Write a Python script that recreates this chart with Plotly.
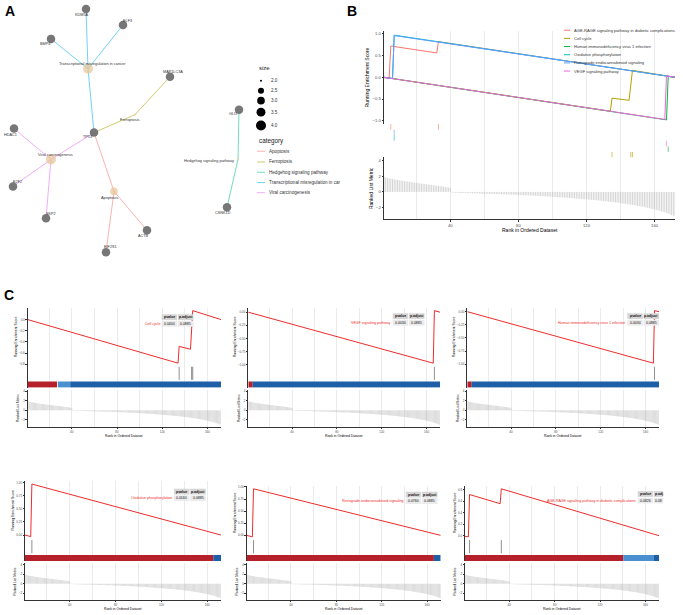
import math
import plotly.graph_objects as go

W, H = 683, 615
FONT = "Liberation Sans"
N_RANK = 172

# ---------------- panel A : gene-concept network ----------------
gene_names = ["KDM5A", "ELF3", "BMP4", "MAP1LC3A", "TP53", "HDAC1",
              "E2F2", "SKP2", "ACTB", "EIF2S1", "GLI1", "CSNK1D"]
gene_x = [86, 123, 51, 170, 94, 14, 13, 46, 147, 106, 239, 227]
gene_y = [8, 24, 38, 76, 132, 128, 186, 218, 230, 252, 109, 207]

cat_names = ["Apoptosis", "Ferroptosis", "Hedgehog signaling pathway",
             "Transcriptional misregulation in cancer", "Viral carcinogenesis"]
cat_legend_text = ["Apoptosis", "Ferroptosis", "Hedgehog signaling pathway",
                   "Transcriptional misregulation in car", "Viral carcinogenesis"]
cat_x = [114, 135, 238, 88, 51]
cat_y = [191, 114, 159, 68, 159]
cat_size = [3, 2, 2, 4, 4]
cat_genes = [["TP53", "ACTB", "EIF2S1"], ["MAP1LC3A", "TP53"], ["GLI1", "CSNK1D"],
             ["KDM5A", "ELF3", "BMP4", "TP53"], ["TP53", "HDAC1", "E2F2", "SKP2"]]
cat_colors = ["#F8766D", "#A3A500", "#00BF7D", "#00B0F6", "#E76BF3"]
size_legend = [2.0, 2.5, 3.0, 3.5, 4.0]

# ---------------- ranked list metric (shared) ----------------
metric = [
    1.92, 1.84, 1.78, 1.73, 1.68, 1.63, 1.59, 1.55, 1.51, 1.47,
    1.43, 1.40, 1.36, 1.33, 1.30, 1.27, 1.24, 1.21, 1.18, 1.15,
    1.12, 1.09, 1.06, 1.03, 1.00, 0.97, 0.94, 0.91, 0.88, 0.85,
    0.82, 0.79, 0.76, 0.73, 0.70, 0.67, 0.63, 0.59, 0.55, 0.51,
    -0.08, -0.09, -0.10, -0.11, -0.12, -0.12, -0.13, -0.14, -0.15, -0.15,
    -0.16, -0.17, -0.17, -0.18, -0.19, -0.19, -0.20, -0.21, -0.21, -0.22,
    -0.23, -0.23, -0.24, -0.25, -0.25, -0.26, -0.27, -0.28, -0.28, -0.29,
    -0.30, -0.31, -0.32, -0.32, -0.33, -0.34, -0.35, -0.36, -0.37, -0.38,
    -0.39, -0.40, -0.41, -0.42, -0.43, -0.44, -0.45, -0.46, -0.47, -0.48,
    -0.50, -0.51, -0.52, -0.53, -0.55, -0.56, -0.57, -0.59, -0.60, -0.61,
    -0.63, -0.64, -0.66, -0.67, -0.69, -0.70, -0.72, -0.73, -0.75, -0.76,
    -0.78, -0.80, -0.81, -0.83, -0.85, -0.87, -0.88, -0.90, -0.92, -0.94,
    -0.96, -0.98, -1.00, -1.02, -1.04, -1.06, -1.08, -1.10, -1.13, -1.15,
    -1.17, -1.20, -1.22, -1.25, -1.27, -1.30, -1.33, -1.35, -1.38, -1.41,
    -1.44, -1.47, -1.50, -1.53, -1.57, -1.60, -1.64, -1.67, -1.71, -1.75,
    -1.79, -1.83, -1.87, -1.91, -1.96, -2.00, -2.05, -2.10, -2.15, -2.20,
    -2.26, -2.32, -2.38, -2.44, -2.51, -2.58, -2.65, -2.73, -2.82, -2.91,
    -3.00, -3.10,
]

# ---------------- running enrichment scores (breakpoints) ----------------
AGE = "AGE-RAGE signaling pathway in diabetic complications"
CC = "Cell cycle"
HIV = "Human immunodeficiency virus 1 infection"
OXP = "Oxidative phosphorylation"
RET = "Retrograde endocannabinoid signaling"
VEGF = "VEGF signaling pathway"

age_rank = [1, 4, 5, 32, 33, 172]
age_es = [-0.01, -0.02, 0.72, 0.56, 0.82, 0.0]
age_hits = [5, 33]
cc_rank = [1, 134, 135, 145, 147, 172]
cc_es = [0.0, -0.78, -0.48, -0.53, 0.16, 0.0]
cc_hits = [135, 146, 147]
hiv_rank = [1, 167, 168, 172]
hiv_es = [0.0, -0.98, 0.02, 0.0]
hiv_hits = [168]
oxp_rank = [1, 6, 7, 172]
oxp_es = [0.0, -0.03, 0.97, 0.0]
oxp_hits = [7]
ret_rank = [1, 6, 7, 172]
ret_es = [0.0, -0.03, 0.96, 0.0]
ret_hits = [7]
vegf_rank = [1, 166, 167, 172]
vegf_es = [0.0, -0.97, 0.03, 0.0]
vegf_hits = [167]

es_data = {AGE: (age_rank, age_es, age_hits), CC: (cc_rank, cc_es, cc_hits),
           HIV: (hiv_rank, hiv_es, hiv_hits), OXP: (oxp_rank, oxp_es, oxp_hits),
           RET: (ret_rank, ret_es, ret_hits), VEGF: (vegf_rank, vegf_es, vegf_hits)}

b_sets = [AGE, CC, HIV, OXP, RET, VEGF]
b_colors = ["#F8766D", "#B79F00", "#00BA38", "#00BFC4", "#619CFF", "#F564E3"]
b_rug_order = [CC, HIV, VEGF, OXP, RET, AGE]  # bottom -> top

# ---------------- panel C ----------------
c_sets = [CC, VEGF, HIV, OXP, RET, AGE]
c_pvalue = ["0.0400", "0.0034", "0.0034", "0.0160", "0.0760", "0.0826"]
c_padjust = ["0.0885", "0.0885", "0.0885", "0.0885", "0.0885", "0.08"]
c_headers = [["pvalue", "p.adjust"]] * 5 + [["pvalue", "p.adj"]]
RED, LBLUE, BLUE = "#B5202A", "#4A8FD0", "#1F5FA8"
c_bin_start = [[1, 27.8, 38.6], [1, 4.9], [1, 4.9], [1, 165.3], [1, 166], [1, 140.5, 167.5]]
c_bin_end = [[27, 38.6, 172], [4.9, 172], [4.9, 172], [165.3, 172], [166, 172], [140.5, 167.5, 172]]
c_bin_color = [[RED, LBLUE, BLUE], [RED, BLUE], [RED, BLUE], [RED, BLUE], [RED, BLUE], [RED, LBLUE, BLUE]]

# ---------------- helpers ----------------
fig = go.Figure()
lay = {}
shapes = []
annos = []
n_ax = [0]


def px(x):
    return x / W


def py(y):
    return 1 - y / H


def axes(x0, x1, y0, y1, xr, yr, xkw=None, ykw=None):
    n_ax[0] += 1
    s = "" if n_ax[0] == 1 else str(n_ax[0])
    base = dict(showgrid=False, zeroline=False, showline=False, showticklabels=False,
                ticks="", fixedrange=True)
    xa = dict(base, domain=[px(x0), px(x1)], range=xr, anchor="y" + s)
    ya = dict(base, domain=[py(y1), py(y0)], range=yr, anchor="x" + s)
    xa.update(xkw or {})
    ya.update(ykw or {})
    lay["xaxis" + s] = xa
    lay["yaxis" + s] = ya
    return "x" + s, "y" + s


def text(x, y, s, size, color="#000000", anchor="center", angle=0, xref="paper", yref="paper"):
    if xref == "paper":
        x, y = px(x), py(y)
    annos.append(dict(x=x, y=y, xref=xref, yref=yref, text=s, showarrow=False,
                      xanchor=anchor, yanchor="middle", textangle=angle, borderpad=0,
                      font=dict(family=FONT, size=size, color=color)))


def rect(x0, y0, x1, y1, color):
    shapes.append(dict(type="rect", xref="paper", yref="paper", x0=px(x0), x1=px(x1),
                       y0=py(y1), y1=py(y0), fillcolor=color, line=dict(width=0), layer="above"))


def xgrid(**kw):
    d = dict(showgrid=True, gridcolor="#EBEBEB", gridwidth=0.5, tickvals=[40, 80, 120, 160],
             minor=dict(tickvals=[20, 60, 100, 140], showgrid=True, gridcolor="#EBEBEB", gridwidth=0.5))
    d.update(kw)
    return d


def xbottom(fs):
    return xgrid(showline=True, linecolor="#333333", linewidth=0.6, ticks="outside", ticklen=1.5,
                 tickwidth=0.5, tickcolor="#333333", showticklabels=True,
                 tickfont=dict(family=FONT, size=fs, color="#4D4D4D"))


def yleft(fs, title=None, tfs=None, standoff=2, **kw):
    d = dict(showline=True, linecolor="#333333", linewidth=0.6, ticks="outside", ticklen=1.5,
             tickwidth=0.5, tickcolor="#333333", showticklabels=True,
             tickfont=dict(family=FONT, size=fs, color="#4D4D4D"))
    if title:
        d["title"] = dict(text=title, font=dict(family=FONT, size=tfs, color="#000000"), standoff=standoff)
    d.update(kw)
    return d


def es_range(vals):
    lo, hi = min(vals), max(vals)
    pad = (hi - lo) * 0.05
    return [lo - pad, hi + pad]


def seg(xs, lo, hi):
    sx, sy = [], []
    for v in xs:
        sx += [v, v, None]
        sy += [lo, hi, None]
    return sx, sy


def metric_trace(xa, ya, width):
    mx, my = [], []
    for r, v in enumerate(metric, start=1):
        mx += [r, r, None]
        my += [0, v, None]
    fig.add_trace(go.Scatter(x=mx, y=my, mode="lines", line=dict(color="#B8B8B8", width=width),
                             xaxis=xa, yaxis=ya, hoverinfo="skip", showlegend=False))


def nd(s):
    return 2.0 * (1 + 4 * math.sqrt((s - 2) / 2))


# ---------------- panel A ----------------
xa, ya = axes(0, 340, 0, 265, [0, 340], [265, 0])
pos = dict(zip(gene_names, zip(gene_x, gene_y)))
for cx, cy, genes, col in zip(cat_x, cat_y, cat_genes, cat_colors):
    ex, ey = [], []
    for g in genes:
        ex += [cx, pos[g][0], None]
        ey += [cy, pos[g][1], None]
    fig.add_trace(go.Scatter(x=ex, y=ey, mode="lines", line=dict(color=col, width=1), opacity=0.55,
                             xaxis=xa, yaxis=ya, hoverinfo="skip", showlegend=False))
fig.add_trace(go.Scatter(x=gene_x, y=gene_y, mode="markers", marker=dict(color="#777777", size=8.5, line=dict(width=0)),
                         xaxis=xa, yaxis=ya, hoverinfo="skip", showlegend=False))
fig.add_trace(go.Scatter(x=cat_x, y=cat_y, mode="markers",
                         marker=dict(color="#E5C494", size=[nd(s) for s in cat_size], line=dict(width=0)),
                         xaxis=xa, yaxis=ya, hoverinfo="skip", showlegend=False))

gene_off = {"KDM5A": (-4, 6), "ELF3": (4, -4), "BMP4": (-6, 5), "MAP1LC3A": (3, -5), "TP53": (-7, 4),
            "HDAC1": (-4, 6), "E2F2": (4, -4), "SKP2": (5, -4), "ACTB": (-4, 6), "EIF2S1": (4, -5),
            "GLI1": (-6, 4), "CSNK1D": (-4, 6)}
for g, gx, gy in zip(gene_names, gene_x, gene_y):
    dx, dy = gene_off[g]
    text(gx + dx, gy + dy, g, 3.8, "#333333", xref=xa, yref=ya)
cat_off = [(-5, 6), (-5, 5), (-29, 1), (4, -5), (4, -5)]
for name, cx, cy, (dx, dy) in zip(cat_names, cat_x, cat_y, cat_off):
    text(cx + dx, cy + dy, name, 3.9, "#333333", xref=xa, yref=ya)

# legends of panel A
text(258, 67, "size", 6, "#222222", anchor="left")
for s, ly in zip(size_legend, [80, 90, 100, 111.5, 125]):
    d = nd(s)
    shapes.append(dict(type="circle", xref="paper", yref="paper", x0=px(261 - d / 2), x1=px(261 + d / 2),
                       y0=py(ly + d / 2), y1=py(ly - d / 2), fillcolor="#000000", line=dict(width=0)))
    text(270, ly, f"{s:.1f}", 4.6, "#333333", anchor="left")
text(258, 140, "category", 6.3, "#222222", anchor="left")
for lab, col, ly in zip(cat_legend_text, cat_colors, [150.7, 161.5, 171.8, 182.2, 192.3]):
    shapes.append(dict(type="line", xref="paper", yref="paper", x0=px(257), x1=px(265), y0=py(ly), y1=py(ly),
                       line=dict(color=col, width=1), opacity=0.55))
    text(267.5, ly, lab, 4.6, "#333333", anchor="left")

# ---------------- panel B ----------------
all_es = [v for s in b_sets for v in es_data[s][1]]
bx0, bx1 = 384, 675
xe, ye = axes(bx0, bx1, 30, 123.5, [1, N_RANK], es_range(all_es), xgrid(),
              yleft(4.2, "Running Enrichment Score", 5, tickvals=[-1, -0.5, 0, 0.5, 1], tickformat=".1f"))
for s, col in zip(b_sets, b_colors):
    r, e, _ = es_data[s]
    fig.add_trace(go.Scatter(x=r, y=e, mode="lines", line=dict(color=col, width=1), xaxis=xe, yaxis=ye,
                             hoverinfo="skip", showlegend=False))
xr_, yr_ = axes(bx0, bx1, 123.5, 157, [1, N_RANK], [0, 6], xgrid())
for i, s in enumerate(b_rug_order):
    sx, sy = seg(es_data[s][2], i, i + 1)
    fig.add_trace(go.Scatter(x=sx, y=sy, mode="lines", line=dict(color=b_colors[b_sets.index(s)], width=0.6),
                             xaxis=xr_, yaxis=yr_, hoverinfo="skip", showlegend=False))
xm, ym = axes(bx0, bx1, 157, 219, [1, N_RANK], [-3.45, 4.35], xbottom(4.2),
              yleft(4.2, "Ranked List Metric", 5, tickvals=[-2, 0, 2, 4]))
metric_trace(xm, ym, 0.6)
text((bx0 + bx1) / 2, 230, "Rank in Ordered Dataset", 5)
for k, (s, col) in enumerate(zip(b_sets, b_colors)):
    ly = 29.3 + k * 8.2
    shapes.append(dict(type="line", xref="paper", yref="paper", x0=px(564), x1=px(570), y0=py(ly), y1=py(ly),
                       line=dict(color=col, width=1)))
    text(573, ly, s, 4.1, "#333333", anchor="left")

# ---------------- panel C ----------------
c_x0 = [27.7, 248.3, 467.3, 25, 246.7, 465]
c_x1 = [221, 440, 659, 221, 440.7, 659]
c_top = [308, 308, 308, 482, 487, 487]
c_row = [0, 0, 0, 174, 174, 174]
c_fmt = [".1f", ".2f", ".2f", ".2f", ".2f", ".1f"]
c_ticks = [[-0.8, -0.6, -0.4, -0.2, 0], [-1, -0.75, -0.5, -0.25, 0], [-1, -0.75, -0.5, -0.25, 0],
           [0, 0.25, 0.5, 0.75, 1], [0, 0.25, 0.5, 0.75, 1], [0, 0.2, 0.4, 0.6, 0.8]]
c_table = [(161.7, 314.3), (392.7, 313.3), (627.3, 313.3), (174, 489.3), (405.7, 492.3), (637.7, 491.7)]
c_clip = [None, None, None, None, None, 663]
LINE_RED = "#EE2C2C"

for k, s in enumerate(c_sets):
    r, e, hits = es_data[s]
    x0, x1, off = c_x0[k], c_x1[k], c_row[k]
    xe, ye = axes(x0, x1, c_top[k], 366 + off, [1, N_RANK], es_range(e), xgrid(),
                  yleft(3, "Running Enrichment Score", 3.4, standoff=1.5, tickvals=c_ticks[k], tickformat=c_fmt[k]))
    fig.add_trace(go.Scatter(x=r, y=e, mode="lines", line=dict(color=LINE_RED, width=1), xaxis=xe, yaxis=ye,
                             hoverinfo="skip", showlegend=False))
    xr_, yr_ = axes(x0, x1, 366 + off, 388 + off, [1, N_RANK], [0, 1], xgrid(),
                    dict(showline=True, linecolor="#333333", linewidth=0.6))
    sx, sy = seg(hits, 0.36, 0.96)
    fig.add_trace(go.Scatter(x=sx, y=sy, mode="lines", line=dict(color="#444444", width=0.6),
                             xaxis=xr_, yaxis=yr_, hoverinfo="skip", showlegend=False))
    for b0, b1, bc in zip(c_bin_start[k], c_bin_end[k], c_bin_color[k]):
        shapes.append(dict(type="rect", xref=xr_, yref=yr_, x0=b0, x1=b1, y0=0.01, y1=0.28,
                           fillcolor=bc, line=dict(width=0), layer="above"))
    xm, ym = axes(x0, x1, 390 + off, 427 + off, [1, N_RANK], [-3.45, 4.35], xbottom(3),
                  yleft(3, "Ranked List Metric", 3.4, standoff=1.5, tickvals=[-2, 0, 2, 4]))
    metric_trace(xm, ym, 0.5)
    text((x0 + x1) / 2, 436 + off, "Rank in Ordered Dataset", 3.4)

    # p-value table
    tx, ty = c_table[k]
    cw, ch, gap = 15.5, 5.8, 0.8
    for j, (hd, val) in enumerate(zip(c_headers[k], [c_pvalue[k], c_padjust[k]])):
        cx0 = tx + j * (cw + gap)
        cx1 = cx0 + cw
        if c_clip[k] is not None:
            cx1 = min(cx1, c_clip[k])
        rect(cx0, ty, cx1, ty + ch, "#D6D6D6")
        rect(cx0, ty + ch + gap, cx1, ty + 2 * ch + gap, "#EBEBEB")
        text((cx0 + cx1) / 2, ty + ch / 2, "<b>" + hd + "</b>", 3.5, "#111111")
        text((cx0 + cx1) / 2, ty + ch + gap + ch / 2, val, 3.5, "#111111")
    text(tx - 1, ty + ch + gap + ch / 2, s, 3.6, LINE_RED, anchor="right")

# panel letters
text(10, 10, "<b>A</b>", 14)
text(352, 10, "<b>B</b>", 14)
text(9, 295, "<b>C</b>", 14)

fig.update_layout(width=W, height=H, margin=dict(l=0, r=0, t=0, b=0), paper_bgcolor="white",
                  plot_bgcolor="white", showlegend=False, shapes=shapes, annotations=annos, **lay)
# drop the page's default body margin so the figure sits at the window origin
fig.write_html("out.html", config={"displayModeBar": False},
               post_script="document.body.style.margin='0';")
